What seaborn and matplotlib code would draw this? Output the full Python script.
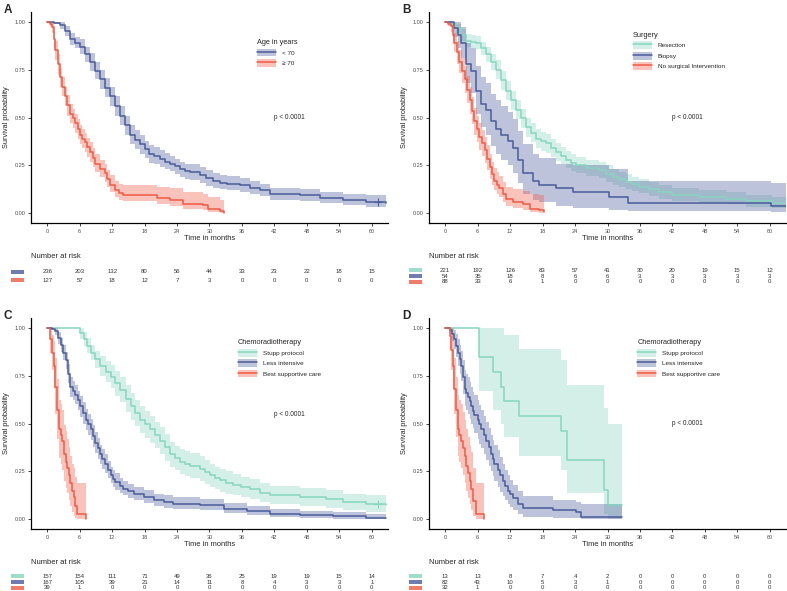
import numpy as np
import pandas as pd
import seaborn as sns
import matplotlib.pyplot as plt
from matplotlib.patches import Patch, Rectangle
from matplotlib.lines import Line2D
from matplotlib.legend_handler import HandlerTuple

sns.set_style("ticks")
plt.rcParams["font.family"] = ["Liberation Sans", "DejaVu Sans"]

# ---- data (months, survival, CI low, CI high) ----
# Panel A: age
a_young_t = [0, 1.2, 2.4, 3.3, 4.2, 5.1, 6.1, 7.0, 7.9, 8.8, 9.8, 10.7, 11.6, 12.5, 13.5, 14.4,
             15.3, 16.2, 17.2, 18.0, 18.9, 19.8, 20.8, 21.7, 22.7, 23.6, 24.5, 25.5, 26.4, 28.2,
             29.4, 30.6, 31.9, 33.2, 35.6, 37.4, 39.3, 41.1, 46.7, 50.4, 54.6, 59.0, 62.7]
a_young_s = [1.0, .995, .98, .95, .91, .89, .87, .83, .79, .745, .70, .655, .61, .56, .51, .46,
             .41, .385, .36, .335, .31, .30, .285, .27, .26, .245, .23, .22, .215, .20,
             .185, .17, .16, .155, .146, .133, .12, .10, .094, .08, .068, .062, .054]
a_young_lo = [1.0, .985, .96, .925, .88, .86, .83, .79, .745, .70, .65, .605, .56, .51, .46, .41,
              .36, .335, .31, .29, .265, .255, .24, .23, .22, .205, .19, .18, .175, .16,
              .145, .13, .125, .12, .11, .10, .09, .07, .065, .053, .043, .035, .028]
a_young_hi = [1.0, 1.0, 1.0, .975, .94, .92, .91, .87, .835, .79, .75, .705, .66, .61, .56, .51,
              .46, .435, .41, .38, .355, .345, .33, .315, .30, .285, .27, .26, .255, .24,
              .225, .21, .20, .195, .185, .17, .155, .135, .128, .112, .10, .095, .09]

a_old_t = [0, 0.5, 0.9, 1.2, 1.5, 1.9, 2.4, 2.8, 3.3, 3.7, 4.2, 4.7, 5.2, 5.6, 6.1, 6.5, 7.0,
           7.4, 7.9, 8.4, 8.9, 9.8, 10.7, 11.1, 11.6, 12.5, 13.2, 14.0, 20.3, 22.7, 25.1,
           28.8, 29.8, 31.9, 32.7]
a_old_s = [1.0, .99, .97, .91, .85, .78, .71, .66, .61, .565, .52, .495, .47, .44, .41, .39, .37,
           .345, .32, .29, .26, .23, .21, .18, .15, .12, .105, .097, .08, .068, .05,
           .042, .024, .012, 0.0]
a_old_lo = [1.0, .97, .94, .86, .80, .72, .66, .61, .56, .51, .47, .445, .42, .39, .36, .34, .32,
            .295, .27, .24, .215, .19, .165, .14, .11, .085, .07, .065, .05, .04, .025,
            .02, .008, .002, 0.0]
a_old_hi = [1.0, 1.0, 1.0, .95, .90, .83, .76, .71, .66, .615, .57, .545, .52, .49, .46, .44, .42,
            .395, .37, .34, .31, .28, .255, .225, .20, .17, .155, .15, .14, .13, .11,
            .10, .085, .07, .07]

# Panel B: surgery
b_res_t = [0, 1.0, 2.0, 3.0, 3.9, 4.8, 5.7, 6.6, 7.6, 8.5, 9.4, 10.4, 11.3, 12.2, 13.1, 14.0,
           15.0, 15.9, 16.8, 17.7, 18.6, 19.5, 20.5, 21.4, 22.3, 23.2, 24.2, 26.0, 28.5, 29.7,
           31.0, 32.2, 33.4, 34.6, 35.9, 37.7, 39.6, 42.0, 47.0, 51.9, 55.6, 60.5, 63.0]
b_res_s = [1.0, .99, .965, .93, .90, .895, .89, .86, .83, .79, .75, .695, .64, .59, .54, .495,
           .45, .42, .39, .375, .365, .34, .32, .30, .28, .265, .25, .235, .225, .205,
           .19, .178, .165, .152, .14, .125, .11, .094, .085, .077, .063, .054, .054]
b_res_lo = [1.0, .98, .94, .90, .865, .86, .855, .825, .79, .75, .70, .645, .59, .54, .49, .445,
            .40, .37, .34, .325, .315, .295, .275, .255, .235, .22, .21, .195, .185, .165,
            .15, .14, .128, .115, .105, .09, .077, .063, .055, .048, .036, .03, .03]
b_res_hi = [1.0, 1.0, .99, .96, .935, .93, .925, .895, .87, .83, .80, .745, .69, .64, .59, .545,
            .50, .47, .44, .425, .415, .39, .365, .345, .325, .31, .295, .28, .27, .25,
            .23, .218, .205, .19, .178, .162, .147, .13, .12, .11, .095, .085, .085]

b_bio_t = [0, 1.7, 2.3, 3.0, 3.9, 4.8, 5.7, 6.6, 7.6, 8.5, 9.4, 10.3, 11.6, 12.5, 13.4, 14.3,
           16.2, 17.4, 20.5, 23.6, 30.3, 33.7, 60.2, 63.0]
b_bio_s = [1.0, .965, .93, .89, .78, .74, .64, .57, .54, .48, .44, .41, .38, .34, .28, .21,
           .17, .15, .13, .11, .085, .054, .037, .037]
b_bio_lo = [1.0, .92, .86, .81, .68, .63, .52, .45, .41, .35, .31, .28, .25, .21, .16, .10,
            .07, .06, .04, .03, .02, .012, .008, .008]
b_bio_hi = [1.0, 1.0, 1.0, .97, .89, .86, .77, .71, .68, .62, .59, .56, .53, .49, .43, .36,
            .31, .29, .26, .25, .23, .17, .16, .16]

b_none_t = [0, 0.6, 1.1, 1.4, 1.7, 2.1, 2.6, 3.1, 3.6, 4.0, 4.5, 5.0, 5.4, 5.9, 6.3, 6.8, 7.3,
            7.7, 8.2, 8.6, 9.1, 9.5, 10.0, 10.6, 11.3, 12.5, 14.3, 15.6, 17.4, 18.3]
b_none_s = [1.0, .99, .975, .93, .89, .84, .79, .745, .70, .645, .59, .535, .48, .44, .40, .365, .33,
            .285, .24, .205, .17, .15, .13, .10, .077, .06, .047, .024, .016, .007]
b_none_lo = [1.0, .975, .945, .89, .84, .78, .73, .68, .63, .575, .52, .465, .41, .37, .33, .30, .265,
             .225, .18, .15, .12, .10, .085, .06, .04, .028, .018, .005, .002, 0.0]
b_none_hi = [1.0, 1.0, 1.0, .97, .94, .90, .85, .81, .77, .715, .66, .605, .55, .51, .47, .435, .40,
             .355, .31, .27, .235, .215, .195, .165, .14, .125, .115, .10, .095, .09]

# Panel C: chemoradiotherapy (all)
c_stupp_t = [0, 6.1, 6.8, 7.4, 8.0, 8.9, 9.8, 10.8, 11.7, 12.6, 13.5, 14.5, 15.4, 16.3, 17.2,
             18.1, 19.0, 20.0, 20.9, 21.8, 22.7, 23.7, 24.6, 25.5, 26.4, 28.3, 29.2, 30.1, 31.0,
             31.9, 33.1, 34.4, 35.9, 37.5, 39.3, 41.2, 46.7, 51.6, 54.7, 59.0, 62.7]
c_stupp_s = [1.0, .97, .94, .905, .87, .835, .80, .77, .745, .71, .675, .63, .59, .555, .52,
             .495, .47, .44, .41, .375, .34, .32, .30, .29, .28, .265, .248, .23, .217,
             .204, .19, .178, .167, .157, .14, .126, .117, .108, .09, .082, .073]
c_stupp_lo = [1.0, .94, .905, .865, .83, .79, .75, .715, .685, .645, .61, .56, .52, .485, .45,
              .425, .40, .37, .34, .305, .275, .255, .235, .225, .215, .20, .185, .17, .16,
              .145, .135, .125, .115, .105, .09, .08, .07, .062, .048, .04, .033]
c_stupp_hi = [1.0, 1.0, .975, .945, .91, .88, .85, .825, .805, .775, .74, .70, .66, .625, .59,
              .565, .54, .51, .48, .445, .405, .385, .365, .355, .345, .33, .31, .29, .275,
              .263, .25, .235, .222, .21, .192, .175, .165, .155, .135, .128, .118]

c_less_t = [0, 0.8, 1.5, 2.0, 2.5, 3.0, 3.4, 3.9, 4.3, 4.8, 5.2, 5.7, 6.1, 6.6, 7.1, 7.5, 8.0,
            8.4, 8.9, 9.3, 9.8, 10.2, 10.7, 11.2, 11.7, 12.1, 12.6, 13.4, 14.1, 15.0, 16.0,
            17.8, 19.7, 21.5, 23.3, 28.3, 32.6, 36.9, 41.2, 46.7, 52.8, 59.0, 62.7]
c_less_s = [1.0, .995, .98, .945, .91, .87, .83, .76, .69, .67, .65, .62, .59, .555, .52, .495, .47,
            .435, .40, .37, .34, .315, .29, .26, .23, .21, .195, .175, .16, .147, .134,
            .117, .10, .09, .082, .073, .056, .044, .03, .021, .016, .009, .009]
c_less_lo = [1.0, .985, .96, .915, .875, .83, .785, .71, .64, .62, .60, .57, .535, .50, .465, .44, .415,
             .38, .345, .315, .29, .265, .24, .215, .19, .17, .155, .14, .125, .112, .10,
             .085, .07, .062, .055, .047, .033, .024, .012, .006, .003, 0.0, 0.0]
c_less_hi = [1.0, 1.0, 1.0, .975, .945, .91, .875, .81, .74, .72, .70, .67, .645, .61, .575, .55, .525,
             .49, .455, .425, .39, .365, .34, .305, .275, .255, .24, .215, .20, .185, .17,
             .152, .135, .125, .115, .105, .085, .07, .052, .043, .038, .03, .03]

c_bsc_t = [0, 0.6, 0.9, 1.2, 1.5, 1.8, 2.1, 2.5, 2.8, 3.1, 3.4, 3.7, 4.0, 4.3, 4.6, 4.9, 5.2, 5.5, 7.1]
c_bsc_s = [1.0, .94, .87, .80, .69, .57, .47, .44, .41, .34, .30, .27, .23, .19, .15, .117, .07, .03, 0.0]
c_bsc_lo = [1.0, .87, .78, .68, .55, .42, .32, .29, .26, .20, .165, .14, .10, .07, .04, .02, .005, 0.0, 0.0]
c_bsc_hi = [1.0, 1.0, .96, .93, .84, .73, .62, .60, .57, .49, .46, .42, .38, .33, .29, .27, .22, .19, .19]

# Panel D: chemoradiotherapy (subgroup)
d_stupp_t = [0, 6.3, 8.8, 10.3, 10.8, 13.6, 21.4, 22.5, 29.3, 30.0, 32.7]
d_stupp_s = [1.0, .846, .769, .692, .615, .538, .461, .308, .154, .077, .077]
d_stupp_lo = [1.0, .67, .57, .50, .43, .33, .26, .14, .03, 0.0, 0.0]
d_stupp_hi = [1.0, 1.0, 1.0, 1.0, .96, .89, .83, .70, .58, .50, .50]

d_less_t = [0, 0.8, 1.2, 1.7, 2.0, 2.3, 2.7, 3.0, 3.3, 3.6, 3.9, 4.2, 4.5, 4.8, 5.1, 5.4, 6.0,
            6.3, 6.6, 7.1, 7.6, 8.0, 8.5, 8.8, 9.1, 9.7, 10.1, 10.6, 11.1, 11.6, 12.0, 12.5,
            13.4, 14.3, 19.9, 24.2, 25.1, 32.7]
d_less_s = [1.0, .99, .965, .94, .905, .87, .835, .80, .74, .68, .66, .64, .615, .59, .565, .545, .52,
            .495, .47, .44, .41, .375, .34, .315, .29, .26, .23, .20, .175, .15, .13, .11,
            .082, .061, .047, .038, .012, .012]
d_less_lo = [1.0, .97, .93, .89, .845, .80, .76, .72, .655, .59, .57, .55, .525, .50, .475, .45, .42,
             .395, .37, .34, .31, .28, .25, .225, .20, .17, .145, .12, .10, .08, .065, .05,
             .03, .015, .008, .005, 0.0, 0.0]
d_less_hi = [1.0, 1.0, 1.0, .99, .965, .94, .91, .88, .83, .78, .76, .74, .715, .69, .665, .65, .62,
             .595, .57, .54, .51, .475, .44, .415, .39, .36, .325, .29, .26, .23, .205, .18,
             .15, .12, .10, .09, .08, .08]

d_bsc_t = [0, 0.8, 1.1, 1.4, 1.7, 2.0, 2.3, 2.6, 3.0, 3.3, 3.6, 3.9, 4.2, 4.5, 4.8, 5.2, 5.6, 7.1]
d_bsc_s = [1.0, .955, .885, .80, .68, .57, .47, .44, .41, .37, .33, .28, .24, .20, .16, .095, .03, 0.0]
d_bsc_lo = [1.0, .89, .78, .68, .55, .43, .33, .30, .27, .23, .19, .15, .11, .08, .05, .02, 0.0, 0.0]
d_bsc_hi = [1.0, 1.0, 1.0, .94, .84, .74, .65, .62, .60, .56, .52, .47, .43, .39, .35, .27, .19, .19]

# Number at risk at 0, 6, ..., 60 months
risk_times = [0, 6, 12, 18, 24, 30, 36, 42, 48, 54, 60]
risk_a = [[236, 203, 132, 80, 56, 44, 33, 23, 22, 18, 15],
          [127, 57, 18, 12, 7, 3, 0, 0, 0, 0, 0]]
risk_b = [[221, 192, 126, 83, 57, 41, 30, 20, 19, 15, 12],
          [54, 35, 18, 8, 6, 6, 3, 3, 3, 3, 3],
          [88, 33, 6, 1, 0, 0, 0, 0, 0, 0, 0]]
risk_c = [[157, 154, 111, 71, 49, 36, 25, 19, 19, 15, 14],
          [167, 105, 39, 21, 14, 11, 8, 4, 3, 3, 1],
          [39, 1, 0, 0, 0, 0, 0, 0, 0, 0, 0]]
risk_d = [[13, 13, 8, 7, 4, 2, 0, 0, 0, 0, 0],
          [82, 43, 10, 5, 3, 1, 0, 0, 0, 0, 0],
          [32, 1, 0, 0, 0, 0, 0, 0, 0, 0, 0]]

BLUE = "#4a5b9a"
RED = "#f05a45"
TEAL = "#86d5c0"

W, H = 787, 591


def box(x0, y0, x1, y1):
    # pixel box (from top-left) -> figure fraction
    return [x0 / W, 1 - y1 / H, (x1 - x0) / W, (y1 - y0) / H]


panels = [
    dict(letter="A", x0=31, y0=12, title="Age in years", labels=["< 70", "\u2265 70"],
         colors=[BLUE, RED], risk=risk_a, pv=0.5, leg=(0.633, 0.873), censor=[(0, 61.2)],
         curves=[(a_young_t, a_young_s, a_young_lo, a_young_hi),
                 (a_old_t, a_old_s, a_old_lo, a_old_hi)]),
    dict(letter="B", x0=429, y0=12, title="Surgery",
         labels=["Resection", "Biopsy", "No surgical Intervention"],
         colors=[TEAL, BLUE, RED], risk=risk_b, pv=0.5, leg=(0.571, 0.907), censor=[],
         curves=[(b_res_t, b_res_s, b_res_lo, b_res_hi),
                 (b_bio_t, b_bio_s, b_bio_lo, b_bio_hi),
                 (b_none_t, b_none_s, b_none_lo, b_none_hi)]),
    dict(letter="C", x0=31, y0=318, title="Chemoradiotherapy",
         labels=["Stupp protocol", "Less intensive", "Best supportive care"],
         colors=[TEAL, BLUE, RED], risk=risk_c, pv=0.545, leg=(0.58, 0.9), censor=[(0, 61.1)],
         curves=[(c_stupp_t, c_stupp_s, c_stupp_lo, c_stupp_hi),
                 (c_less_t, c_less_s, c_less_lo, c_less_hi),
                 (c_bsc_t, c_bsc_s, c_bsc_lo, c_bsc_hi)]),
    dict(letter="D", x0=429, y0=318, title="Chemoradiotherapy",
         labels=["Stupp protocol", "Less intensive", "Best supportive care"],
         colors=[TEAL, BLUE, RED], risk=risk_d, pv=0.5, leg=(0.583, 0.9), censor=[],
         curves=[(d_stupp_t, d_stupp_s, d_stupp_lo, d_stupp_hi),
                 (d_less_t, d_less_s, d_less_lo, d_less_hi),
                 (d_bsc_t, d_bsc_s, d_bsc_lo, d_bsc_hi)]),
]

fig = plt.figure(figsize=(W / 100, H / 100), dpi=100)

for p in panels:
    x0, y0 = p["x0"], p["y0"]
    ax = fig.add_axes(box(x0, y0, x0 + 357, y0 + 211))
    rax = fig.add_axes(box(x0, y0 + 255.5, x0 + 357, y0 + 272.5))

    # long-form table for seaborn
    frames = []
    for lab, (t, s, lo, hi) in zip(p["labels"], p["curves"]):
        frames.append(pd.DataFrame({"time": t, "surv": s, "group": lab}))
    df = pd.concat(frames, ignore_index=True)

    # confidence bands
    for col, (t, s, lo, hi) in zip(p["colors"], p["curves"]):
        ax.fill_between(t, lo, hi, step="post", color=col, alpha=0.36, linewidth=0)

    sns.lineplot(data=df, x="time", y="surv", hue="group", hue_order=p["labels"],
                 palette=p["colors"], drawstyle="steps-post", estimator=None,
                 sort=True, linewidth=1.1, legend=False, ax=ax)

    # censor marks at the tail
    for idx, tc in p["censor"]:
        t, s = p["curves"][idx][0], p["curves"][idx][1]
        sc = s[np.searchsorted(t, tc, side="right") - 1]
        ax.plot([tc], [sc], marker="+", color=p["colors"][idx], markersize=6, mew=0.8)

    ax.set_xlim(-3, 63)
    ax.set_ylim(-0.05, 1.05)
    ax.set_xticks(risk_times)
    ax.set_yticks([0, 0.25, 0.5, 0.75, 1.0])
    ax.set_yticklabels(["0.00", "0.25", "0.50", "0.75", "1.00"])
    ax.tick_params(labelsize=4, length=2.5, width=0.6, pad=1.5, labelcolor="#4d4d4d")
    for sp in ["top", "right"]:
        ax.spines[sp].set_visible(False)
    for sp in ["left", "bottom"]:
        ax.spines[sp].set_linewidth(0.9)
        ax.spines[sp].set_color("black")
    ax.set_xlabel("Time in months", fontsize=5.4)
    ax.set_ylabel("Survival probability", fontsize=5.3)
    ax.xaxis.set_label_coords(0.5, -0.058)
    ax.yaxis.set_label_coords(-0.058, 0.5)

    ax.text(42, p["pv"], "p < 0.0001", fontsize=4.7, va="center", ha="left")

    handles = [(Patch(facecolor=c, alpha=0.36, edgecolor="none"),
                Line2D([], [], color=c, linewidth=1.1)) for c in p["colors"]]
    ax.legend(handles, p["labels"], title=p["title"], loc="upper left",
              bbox_to_anchor=p["leg"], frameon=False, fontsize=4.6,
              title_fontsize=5.3, handlelength=3.0, handleheight=1.45,
              handletextpad=0.9, labelspacing=0.45, borderpad=0, borderaxespad=0,
              alignment="left", handler_map={tuple: HandlerTuple(ndivide=1, pad=0)})

    fig.text((x0 - 27) / W, 1 - (y0 - 8) / H, p["letter"], fontsize=8.5,
             fontweight="bold", ha="left", va="top")

    # risk table
    n = len(p["risk"])
    rax.set_xlim(-3, 63)
    rax.set_ylim(n, 0)
    rax.axis("off")
    rax.text(0, 1 + 10.5 / 17, "Number at risk", transform=rax.transAxes,
             fontsize=5.5, ha="left", va="center")
    sw_h = 4 * n / 17
    for i, (vals, col) in enumerate(zip(p["risk"], p["colors"])):
        for tt, v in zip(risk_times, vals):
            rax.text(tt, i + 0.5, str(v), fontsize=4.3, ha="center", va="center", color="#333333")
        rax.add_patch(Rectangle((-6.7, i + 0.5 - sw_h / 2), 2.4, sw_h, color=col,
                                alpha=0.8, clip_on=False, linewidth=0))

fig.savefig("out.png", dpi=100)
